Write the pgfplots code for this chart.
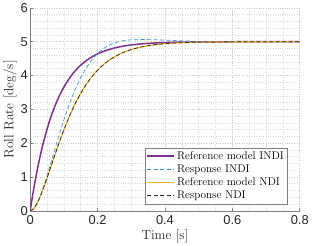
\documentclass[border=0pt]{standalone}
\usepackage{fontspec}
\usepackage{pgfplots}
\pgfplotsset{compat=1.18}
\newfontfamily\ticksf{Liberation Sans}
\definecolor{mpurple}{rgb}{0.494,0.184,0.556}
\definecolor{mblue}{rgb}{0.22,0.56,0.86}
\definecolor{myellow}{rgb}{0.929,0.694,0.125}
\begin{document}
\begin{tikzpicture}[x=1bp,y=1bp]
\begin{axis}[
  scale only axis,
  width=271bp, height=204bp,
  xmin=0, xmax=0.8, ymin=0, ymax=6,
  axis x line*=bottom, axis y line*=left,
  axis line style={black!50, line width=0.5pt},
  xtick={0,0.2,0.4,0.6,0.8},
  ytick={0,1,2,3,4,5,6},
  minor x tick num=3, minor y tick num=4,
  tick align=inside,
  major tick length=3bp, minor tick length=0pt,
  tick style={black!50, line width=0.5pt},
  grid=both,
  major grid style={black!22, dotted, line width=0.5pt},
  minor grid style={black!15, dotted, line width=0.5pt},
  xticklabel={\ticksf\fontsize{13}{15}\selectfont\pgfmathprintnumber[assume math mode=true,fixed]{\tick}},
  yticklabel={\ticksf\fontsize{13}{15}\selectfont\pgfmathprintnumber[assume math mode=true,fixed]{\tick}},
  tick label style={text=black!85},
  xticklabel style={yshift=-1bp},
  yticklabel style={xshift=1bp},
  xlabel={Time [s]}, ylabel={Roll Rate [deg/s]},
  label style={font=\fontsize{13.5}{15}\selectfont, text=black!85},
  xlabel style={yshift=2bp},
  ylabel style={yshift=-3bp},
  legend style={at={(axis cs:0.764,0.2)}, anchor=south east,
    font=\fontsize{11.3}{13}\selectfont, draw=black!50, line width=0.5pt,
    inner sep=1.5bp, row sep=0bp, cells={anchor=west}, fill=white},
  legend image code/.code={\draw[#1] (0bp,0bp) -- (27bp,0bp);},
  legend cell align=left,
]
\addplot[color=mpurple, draw=mpurple, line width=1.5pt, smooth] coordinates {
(0,0) (0.01,0.617) (0.02,1.157) (0.03,1.631) (0.04,2.046) (0.05,2.410)
(0.06,2.730) (0.07,3.010) (0.08,3.255) (0.09,3.470) (0.10,3.659)
(0.12,3.969) (0.14,4.208) (0.16,4.391) (0.18,4.532) (0.20,4.640)
(0.22,4.723) (0.24,4.787) (0.26,4.837) (0.28,4.874) (0.30,4.904)
(0.33,4.935) (0.36,4.956) (0.40,4.974) (0.45,4.987) (0.50,4.993)
(0.60,4.998) (0.70,5.000) (0.80,5.000)};
\addlegendentry{Reference model INDI}
\addplot[color=mblue, draw=mblue, line width=0.7pt, dash pattern=on 4bp off 2.5bp, smooth] coordinates {
(0,0) (0.01,0.058) (0.02,0.216) (0.03,0.445) (0.04,0.725) (0.05,1.038)
(0.06,1.370) (0.07,1.708) (0.08,2.045) (0.09,2.372) (0.10,2.685)
(0.12,3.251) (0.14,3.730) (0.16,4.118) (0.18,4.421) (0.20,4.648)
(0.22,4.812) (0.24,4.926) (0.26,4.995) (0.28,5.035) (0.30,5.055)
(0.33,5.063) (0.36,5.060) (0.40,5.045) (0.45,5.025) (0.50,5.010)
(0.55,5.003) (0.60,5.000) (0.70,5.000) (0.80,5.000)};
\addlegendentry{Response INDI}
\addplot[color=myellow, draw=myellow, line width=1.1pt, smooth] coordinates {
(0,0) (0.01,0.058) (0.02,0.210) (0.03,0.426) (0.04,0.683) (0.05,0.965)
(0.06,1.259) (0.07,1.554) (0.08,1.845) (0.09,2.125) (0.10,2.391)
(0.12,2.876) (0.14,3.291) (0.16,3.639) (0.18,3.926) (0.20,4.157)
(0.22,4.342) (0.24,4.490) (0.26,4.606) (0.28,4.697) (0.30,4.767)
(0.33,4.844) (0.36,4.897) (0.40,4.941) (0.45,4.971) (0.50,4.986)
(0.55,4.993) (0.60,4.997) (0.70,4.999) (0.80,5.000)};
\addlegendentry{Reference model NDI}
\addplot[color=black!85, draw=black!85, line width=0.7pt, dash pattern=on 4bp off 2.5bp, smooth] coordinates {
(0,0) (0.01,0.058) (0.02,0.210) (0.03,0.426) (0.04,0.683) (0.05,0.965)
(0.06,1.259) (0.07,1.554) (0.08,1.845) (0.09,2.125) (0.10,2.391)
(0.12,2.876) (0.14,3.291) (0.16,3.639) (0.18,3.926) (0.20,4.157)
(0.22,4.342) (0.24,4.490) (0.26,4.606) (0.28,4.697) (0.30,4.767)
(0.33,4.844) (0.36,4.897) (0.40,4.941) (0.45,4.971) (0.50,4.986)
(0.55,4.993) (0.60,4.997) (0.70,4.999) (0.80,5.000)};
\addlegendentry{Response NDI}
\end{axis}
\end{tikzpicture}
\end{document}
